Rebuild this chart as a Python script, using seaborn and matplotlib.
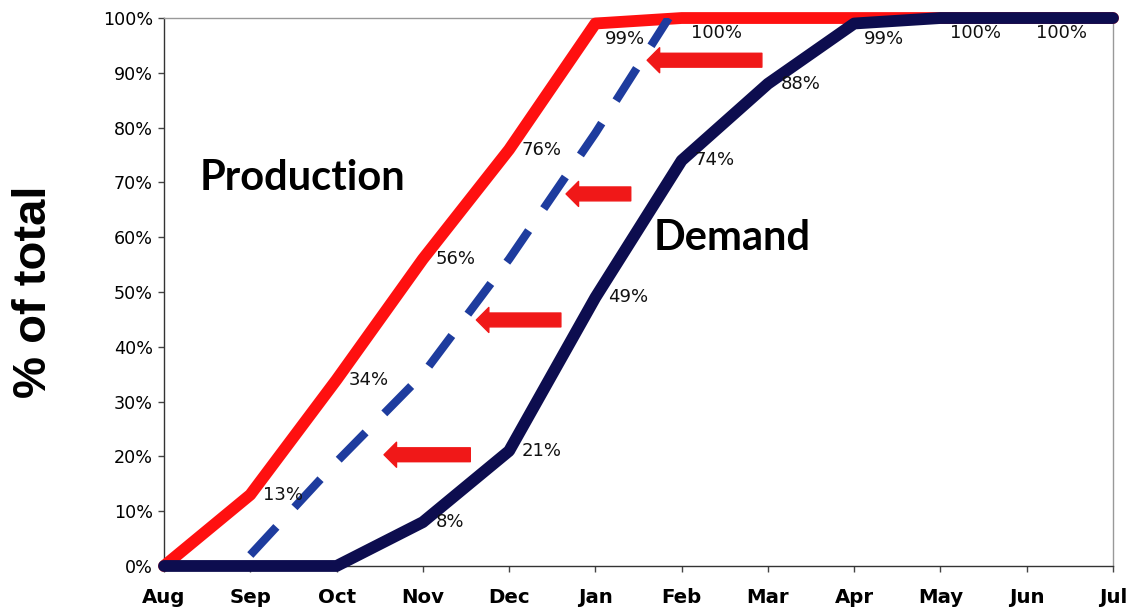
import matplotlib
matplotlib.use("Agg")
import matplotlib.pyplot as plt
import seaborn as sns
import pandas as pd

# Months of the season and cumulative shares (% of annual total)
months = ["Aug", "Sep", "Oct", "Nov", "Dec", "Jan", "Feb", "Mar", "Apr", "May", "Jun", "Jul"]
production = [0, 13, 34, 56, 76, 99, 100, 100, 100, 100, 100, 100]
demand = [0, 0, 0, 8, 21, 49, 74, 88, 99, 100, 100, 100]

# Production curve shifted toward demand (dashed)
shifted_x = [1, 2, 3, 4, 5, 5.85]
shifted = [2, 19, 35, 56, 79, 100]

# Which points carry a value label
prod_labeled = [1, 2, 3, 4, 5, 6]
dem_labeled = [3, 4, 5, 6, 7, 8, 9, 10]

RED = "#ff1010"
NAVY = "#0d0d4f"
BLUE = "#1e3c9e"
INK = "#000000"

sns.set_theme(style="white")
plt.rcParams["font.family"] = ["DejaVu Sans"]
plt.rcParams["text.color"] = INK
plt.rcParams["xtick.color"] = INK
plt.rcParams["ytick.color"] = INK
plt.rcParams["axes.labelcolor"] = INK

fig = plt.figure(figsize=(11.4, 6.13), dpi=100)
ax = fig.add_axes([0.1439, 0.0767, 0.9763 - 0.1439, 0.9706 - 0.0767])

idx = list(range(len(months)))
df = pd.DataFrame({"pos": idx, "production": production, "demand": demand})
df_shift = pd.DataFrame({"pos": shifted_x, "value": shifted})

sns.lineplot(data=df, x="pos", y="production", ax=ax, color=RED, linewidth=8.5,
             clip_on=False, solid_joinstyle="round", zorder=3)
sns.lineplot(data=df_shift, x="pos", y="value", ax=ax, color=BLUE, linewidth=6,
             linestyle=(0, (4.6, 3.2)), dash_capstyle="butt", zorder=4)
sns.lineplot(data=df, x="pos", y="demand", ax=ax, color=NAVY, linewidth=8.5,
             clip_on=False, solid_joinstyle="round", zorder=5)

ax.set_xlim(0, 11)
ax.set_ylim(0, 100)
ax.set_xticks(idx)
ax.set_xticklabels(months, fontsize=14.2, fontweight="bold")
ax.set_yticks(range(0, 101, 10))
ax.set_yticklabels([f"{v}%" for v in range(0, 101, 10)], fontsize=12.6)
ax.tick_params(axis="x", length=4, width=1, color="#444444", pad=12, direction="out", bottom=True)
ax.tick_params(axis="y", length=4, width=1, color="#444444", pad=4, direction="out", left=True)
ax.set_xlabel("")
ax.set_ylabel("% of total", fontsize=34, fontweight="bold",
              family=["Liberation Sans", "DejaVu Sans"], labelpad=34)

for name, sp in ax.spines.items():
    sp.set_visible(True)
    sp.set_linewidth(1.0)
    sp.set_color("#333333" if name in ("left", "bottom") else "#999999")

# Value labels next to the points
def label(i, v):
    if v >= 99:
        off = (7, -11)
    else:
        off = (9, 0)
    ax.annotate(f"{v}%", xy=(i, v), xytext=off, textcoords="offset points",
                ha="left", va="center", fontsize=13, color="#111111", zorder=6,
                annotation_clip=False)

for i in prod_labeled:
    label(i, production[i])
for i in dem_labeled:
    label(i, demand[i])

# Arrows showing the shift of production toward demand
arrows = [((5.60, 92.3), (6.93, 92.3)),
          ((4.66, 67.9), (5.41, 67.9)),
          ((3.62, 44.9), (4.60, 44.9)),
          ((2.55, 20.3), (3.55, 20.3))]
for tip, tail in arrows:
    ax.annotate("", xy=tip, xytext=tail,
                arrowprops=dict(arrowstyle="simple,head_length=0.45,head_width=0.9,tail_width=0.5",
                                color="#f01818", shrinkA=0, shrinkB=0, mutation_scale=20),
                zorder=6)

ax.text(0.41, 68.6, "Production", fontsize=30, fontweight="bold", family=["Lato", "DejaVu Sans"],
        ha="left", va="baseline", color=INK)
ax.text(5.68, 57.7, "Demand", fontsize=30, fontweight="bold", family=["Lato", "DejaVu Sans"],
        ha="left", va="baseline", color=INK)

fig.savefig("out.png", dpi=100, facecolor="white")
